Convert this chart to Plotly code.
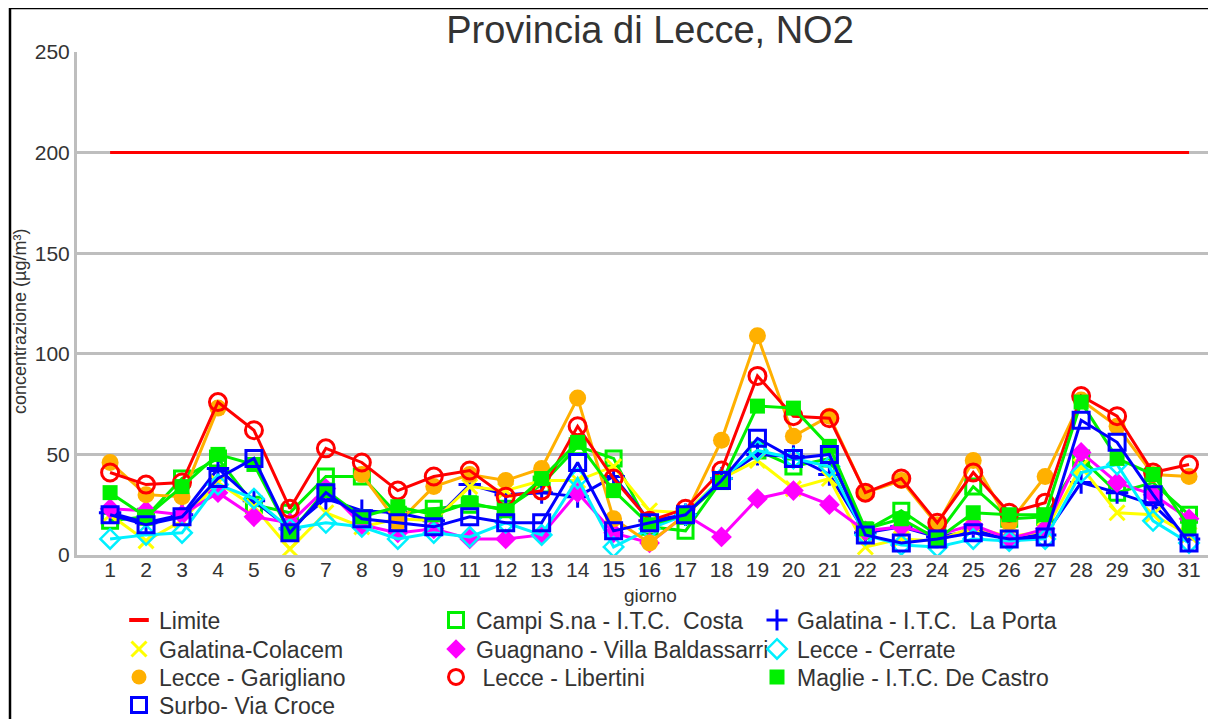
import plotly.graph_objects as go

days = list(range(1, 32))
limite = [200, 200, 200, 200, 200, 200, 200, 200, 200, 200, 200, 200, 200, 200, 200, 200,
          200, 200, 200, 200, 200, 200, 200, 200, 200, 200, 200, 200, 200, 200, 200]
campi = [17, 19, 38, 48, 25, 21, 39, 39, 20, 23, 25, 23, 35, 54, 48, 14, 12, 37, 52, 44, 48,
         12, 22, 10, 34, 18, 19, 48, 31, 36, 20]
la_porta = [21, 16, 20, 43, 27, 13, 28, 22, 21, 17, 35, 30, 31, 29, 39, 17, 20, 38, 50, 49, 40,
            11, 14, 9, 12, 9, 10, 36, 31, 25, 8]
colacem = [20, 7, 17, 36, 24, 3, 21, 14, 18, 17, 34, 32, 37, 37, 44, 22, 21, 38, 47, 33, 38,
           4, 8, 7, 14, 9, 12, 44, 21, 20, 10]
guagnano = [23, 22, 20, 31, 19, 16, 33, 15, 11, 13, 8, 8, 10, 31, 11, 6, 20, 9, 28, 32, 25,
            12, 14, 10, 15, 8, 13, 51, 36, 30, 18]
cerrate = [8, 10, 11, 35, 28, 13, 16, 14, 8, 11, 9, 16, 10, 38, 4, 13, 20, 38, 52, 48, 44,
           10, 5, 4, 8, 7, 8, 41, 45, 17, 6]
garigliano = [46, 30, 29, 73, None, None, None, 40, 16, 34, 40, 37, 43, 78, 18, 6, 20, 57, 109,
              59, 69, 31, 37, 15, 47, 16, 39, 77, 64, 40, 39]
libertini = [41, 35, 36, 76, 62, 23, 53, 46, 32, 39, 42, 29, 32, 64, 38, 17, 23, 42, 89, 69, 68,
             31, 38, 16, 41, 21, 26, 79, 69, 41, 45]
maglie = [31, 19, 34, 50, 45, 11, 32, 19, 24, 20, 26, 22, 38, 56, 32, 15, 20, 36, 74, 73, 54,
          13, 18, 8, 21, 20, 20, 76, 48, 40, 14]
surbo = [20, 15, 19, 38, 48, 11, 31, 18, 16, 14, 19, 16, 16, 46, 12, 16, 20, 37, 58, 48, 50,
         10, 6, 8, 11, 8, 9, 67, 56, 30, 6]

names = ["Limite", "Campi S.na - I.T.C.  Costa", "Galatina - I.T.C.  La Porta",
         "Galatina-Colacem", "Guagnano - Villa Baldassarri", "Lecce - Cerrate",
         "Lecce - Garigliano", " Lecce - Libertini", "Maglie - I.T.C. De Castro",
         "Surbo- Via Croce"]
series = [limite, campi, la_porta, colacem, guagnano, cerrate, garigliano, libertini, maglie, surbo]

RED = "#FF0000"
LIME = "#00F000"
BLUE = "#0000FF"
YEL = "#FFFF00"
MAG = "#FF00FF"
CYAN = "#00F0FF"
ORA = "#FFB000"

styles = [
    dict(color=RED, symbol=None),
    dict(color=LIME, symbol="square-open", size=15, lw=3),
    dict(color=BLUE, symbol="cross-thin", size=16, lw=3),
    dict(color=YEL, symbol="x-thin", size=15, lw=3),
    dict(color=MAG, symbol="diamond", size=16, lw=0),
    dict(color=CYAN, symbol="diamond-open", size=15, lw=2.5),
    dict(color=ORA, symbol="circle", size=17, lw=0),
    dict(color=RED, symbol="circle-open", size=17, lw=3),
    dict(color=LIME, symbol="square", size=15, lw=0),
    dict(color=BLUE, symbol="square-open", size=16, lw=3),
]

fig = go.Figure()
for name, vals, st in zip(names, series, styles):
    if st["symbol"] is None:
        fig.add_trace(go.Scatter(x=days, y=vals, mode="lines", name=name, showlegend=False,
                                 line=dict(color=st["color"], width=3)))
    else:
        fig.add_trace(go.Scatter(
            x=days, y=vals, mode="lines+markers", name=name, showlegend=False,
            connectgaps=False,
            line=dict(color=st["color"], width=3),
            marker=dict(symbol=st["symbol"], size=st["size"], color=st["color"],
                        line=dict(color=st["color"], width=st["lw"]))))

FONT = "Liberation Sans, Arial, sans-serif"
TXT = "#333333"
PW = 1139.0
PH = 503.0
OFF = 8  # page body margin


def px(x):
    return (x - 77) / PW


def py(y):
    return (555 - y) / PH


# legend layout: 3 columns x 4 rows, one legend per entry
col_box = [119, 436, 757]
row_y = [620, 649, 677, 705]
legend_layouts = {}
for i, (name, st) in enumerate(zip(names, styles)):
    lg = "legend" if i == 0 else "legend%d" % (i + 1)
    col, row = i % 3, i // 3
    legend_layouts[lg] = dict(
        x=px(col_box[col]), y=py(row_y[row]), xanchor="left", yanchor="middle",
        font=dict(family=FONT, size=23, color=TXT), bgcolor="rgba(0,0,0,0)",
        orientation="v", itemclick=False)
    if st["symbol"] is None:
        mk = dict(symbol="line-ew", size=14, color=st["color"],
                  line=dict(color=st["color"], width=4))
    else:
        mk = dict(symbol=st["symbol"], size=min(st["size"], 15), color=st["color"],
                  line=dict(color=st["color"], width=st["lw"]))
    fig.add_trace(go.Scatter(x=[None], y=[None], mode="markers", name=name,
                             marker=mk, legend=lg, showlegend=True))

fig.update_layout(
    width=1216 - OFF, height=719 - OFF,
    margin=dict(l=77 - OFF, r=0, t=52 - OFF, b=719 - OFF - (52 - OFF) - 503, autoexpand=False),
    plot_bgcolor="white", paper_bgcolor="white",
    font=dict(family=FONT, color=TXT),
    title=dict(text="Provincia di Lecce, NO2", x=px(650), xanchor="center",
               xref="paper", y=1 - (30 - OFF) / (719 - OFF), yref="container", yanchor="middle",
               font=dict(family=FONT, size=38, color=TXT)),
    xaxis=dict(range=[0.08, 31.75], tickmode="linear", tick0=1, dtick=1,
               showgrid=False, zeroline=False, showline=True, linecolor="#BEBEBE",
               linewidth=3, ticks="", ticklabelstandoff=-6,
               tickfont=dict(family=FONT, size=21, color=TXT)),
    yaxis=dict(range=[0, 250], tickmode="linear", tick0=0, dtick=50,
               showgrid=True, gridcolor="#BEBEBE", gridwidth=3, zeroline=False,
               showline=True, linecolor="#BEBEBE", linewidth=3, ticks="",
               tickfont=dict(family=FONT, size=21, color=TXT)),
    annotations=[
        dict(text="concentrazione (µg/m³)", x=px(20), y=py(322), xref="paper", yref="paper",
             textangle=-90, showarrow=False, xanchor="center", yanchor="middle",
             font=dict(family=FONT, size=18, color=TXT)),
        dict(text="giorno", x=px(650), y=py(595), xref="paper", yref="paper",
             showarrow=False, xanchor="center", yanchor="middle",
             font=dict(family=FONT, size=19, color=TXT)),
    ],
    shapes=[dict(type="rect", xref="paper", yref="paper", x0=px(10), x1=px(1240),
                 y0=py(760), y1=py(8), line=dict(color="black", width=2.5),
                 fillcolor="rgba(0,0,0,0)", layer="above")],
    **legend_layouts,
)

fig.write_html("out.html")
